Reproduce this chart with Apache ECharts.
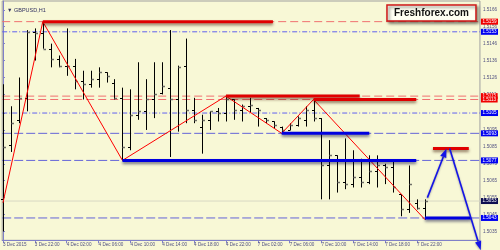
<!DOCTYPE html>
<html><head><meta charset="utf-8">
<script src="https://cdn.jsdelivr.net/npm/echarts@6/dist/echarts.min.js"></script>
<style>html,body{margin:0;padding:0;background:#F8F8D6}#c{width:500px;height:250px}</style>
</head><body><div id="c"></div>
<script>
// time axis labels (every 4 hourly bars)
const timeLabels = ["3 Dec 2015","3 Dec 22:00","4 Dec 02:00","4 Dec 06:00","4 Dec 10:00","4 Dec 14:00","4 Dec 18:00","4 Dec 22:00","7 Dec 02:00","7 Dec 06:00","7 Dec 10:00","7 Dec 14:00","7 Dec 18:00","7 Dec 22:00"];
const timeLabelIdx = [0,4,8,12,16,20,24,28,32,36,40,44,48,52];
const priceTicks = [1.5035,1.5045,1.5055,1.5065,1.5075,1.5085,1.5095,1.5105,1.5116,1.5126,1.5136,1.5146,1.5156,1.5166];

// OHLC hourly bars (3 Dec 18:00 .. 7 Dec 23:00)
const opens  = [1.5054,1.5086,1.5101,1.5114,1.5153,1.5152,1.5143,1.5137,1.5133,1.5133,1.5124,1.5122,1.5125,1.5129,1.5123,1.5114,1.5085,1.5104,1.5106,1.5113,1.5117,1.5120,1.5113,1.5133,1.5107,1.5097,1.5101,1.5106,1.5105,1.5113,1.5107,1.5109,1.5108,1.5102,1.5100,1.5097,1.5095,1.5098,1.5101,1.5107,1.5102,1.5074,1.5080,1.5064,1.5063,1.5067,1.5064,1.5071,1.5074,1.5073,1.5057,1.5048,1.5052,1.5049];
const highs  = [1.5122,1.5109,1.5126,1.5154,1.5155,1.5159,1.5146,1.5139,1.5155,1.5137,1.5130,1.5130,1.5132,1.5129,1.5125,1.5120,1.5119,1.5135,1.5125,1.5135,1.5135,1.5154,1.5133,1.5149,1.5114,1.5104,1.5106,1.5108,1.5115,1.5113,1.5110,1.5114,1.5108,1.5102,1.5100,1.5097,1.5099,1.5103,1.5109,1.5113,1.5102,1.5089,1.5080,1.5090,1.5083,1.5078,1.5080,1.5080,1.5075,1.5077,1.5057,1.5074,1.5054,1.5054];
const lows   = [1.5035,1.5082,1.5099,1.5106,1.5136,1.5143,1.5132,1.5132,1.5127,1.5119,1.5113,1.5120,1.5120,1.5123,1.5113,1.5077,1.5083,1.5101,1.5095,1.5102,1.5116,1.5079,1.5094,1.5099,1.5099,1.5081,1.5095,1.5100,1.5100,1.5101,1.5100,1.5105,1.5097,1.5099,1.5096,1.5093,1.5095,1.5097,1.5097,1.5100,1.5054,1.5054,1.5058,1.5060,1.5061,1.5061,1.5063,1.5061,1.5063,1.5058,1.5044,1.5046,1.5048,1.5042];
const closes = [1.5085,1.5099,1.5114,1.5153,1.5152,1.5143,1.5137,1.5133,1.5133,1.5124,1.5122,1.5125,1.5129,1.5127,1.5114,1.5085,1.5104,1.5106,1.5113,1.5116,1.5121,1.5113,1.5132,1.5107,1.5101,1.5101,1.5106,1.5105,1.5113,1.5107,1.5109,1.5110,1.5107,1.5101,1.5098,1.5095,1.5098,1.5102,1.5107,1.5102,1.5074,1.5080,1.5064,1.5063,1.5067,1.5064,1.5071,1.5074,1.5073,1.5061,1.5048,1.5063,1.5049,1.5053];

// horizontal price levels
const redDashLevels = [1.5159,1.5115,1.5113];
const blueDashDotLevels = [1.5153,1.5105];
const blueDashLevels = [1.5093,1.5077,1.5043];
const currentPrice = 1.5053;

// zigzag pivots (bar index, price)
const zigzagIdx = [0,5,15,28,35,39,53];
const zigzagPrice = [1.5052,1.5159,1.5077,1.5115,1.5093,1.5113,1.5042];

// thick segments: [startIdx, endIdx, price]
const redSegments = [[5,33.9,1.5159],[28,44.8,1.5115],[39,51.9,1.5113],[54,58.5,1.5084]];
const blueSegments = [[15,51.9,1.5077],[35,46,1.5093],[53,58.75,1.5043]];

// forecast arrows: [x1,p1,x2,p2]
const arrows = [[53.3,1.5055,55.7,1.5084],[56.1,1.5084,60,1.5024]];

const X_MIN = -0.1, X_MAX = 59.9;
const chart = echarts.init(document.getElementById('c'), null, {renderer:'canvas'});
const FONT = 'Liberation Sans';
const ohlcData = opens.map((o,i)=>[i,o,highs[i],lows[i],closes[i]]);

function renderOHLC(params, api){
  const i = api.value(0);
  const o = api.coord([i, api.value(1)]);
  const h = api.coord([i, api.value(2)]);
  const l = api.coord([i, api.value(3)]);
  const c = api.coord([i, api.value(4)]);
  const x = Math.round(o[0]) + 0.5;
  const tw = 2.5;
  return {type:'group', children:[
    {type:'line', shape:{x1:x,y1:h[1],x2:x,y2:l[1]}, style:{stroke:'#000',lineWidth:1}},
    {type:'line', shape:{x1:x-tw,y1:Math.round(o[1])+0.5,x2:x,y2:Math.round(o[1])+0.5}, style:{stroke:'#000',lineWidth:1}},
    {type:'line', shape:{x1:x,y1:Math.round(c[1])+0.5,x2:x+tw,y2:Math.round(c[1])+0.5}, style:{stroke:'#707068',lineWidth:1.5}}
  ]};
}

function renderArrow(params, api){
  const a = api.coord([api.value(0), api.value(1)]);
  const b = api.coord([api.value(2), api.value(3)]);
  const dx = b[0]-a[0], dy = b[1]-a[1], len = Math.hypot(dx,dy);
  const ux = dx/len, uy = dy/len, nx = -uy, ny = ux;
  const L = 9, W = 3.2;
  const bx = b[0]-ux*L, by = b[1]-uy*L;
  const st = {shadowColor:'rgba(0,0,60,0.35)', shadowBlur:2, shadowOffsetY:1};
  return {type:'group', children:[
    {type:'line', shape:{x1:a[0],y1:a[1],x2:bx,y2:by}, style:Object.assign({stroke:'#1414E6',lineWidth:1.6},st)},
    {type:'polygon', shape:{points:[[b[0],b[1]],[bx+nx*W,by+ny*W],[bx-nx*W,by-ny*W]]}, style:Object.assign({fill:'#1414E6'},st)}
  ]};
}

function levelSeries(p, color, type, labelBg){
  return {type:'line', data:[[X_MIN,p],[X_MAX,p]], symbol:'none', z:1, silent:true,
    lineStyle:{color:color, type:type, width:1},
    endLabel:{show:true, distance:1, formatter:p.toFixed(4), color:'#fff', fontSize:4.6, fontFamily:FONT,
      backgroundColor:labelBg, padding:[0.6,1.5,0.4,1.5]}};
}
const levels = [];
levels.push(levelSeries(currentPrice,'#D8D8C4','solid','#0E0E50'));
redDashLevels.forEach(p=>levels.push(levelSeries(p,'#F07070',[8,4],'#F00000')));
blueDashDotLevels.forEach(p=>levels.push(levelSeries(p,'#6060F0',[5,2,1,2],'#0000F0')));
blueDashLevels.forEach(p=>levels.push(levelSeries(p,'#6464D8',[9,3],'#0000F0')));

const segSeries = [];
redSegments.forEach(s=>segSeries.push({type:'line', data:[[s[0],s[2]],[s[1],s[2]]], symbol:'none', z:4, silent:true,
  lineStyle:{color:'#E00000', width:3, shadowColor:'rgba(60,20,0,0.55)', shadowBlur:3, shadowOffsetY:2}}));
blueSegments.forEach(s=>segSeries.push({type:'line', data:[[s[0],s[2]],[s[1],s[2]]], symbol:'none', z:4, silent:true,
  lineStyle:{color:'#0000E0', width:3, shadowColor:'rgba(0,0,60,0.55)', shadowBlur:3, shadowOffsetY:2}}));

chart.setOption({
  animation:false,
  backgroundColor:'#F8F8D6',
  title:[
    {text:'▼ GBPUSD,H1', left:2, top:2, textStyle:{fontSize:5.5, fontFamily:FONT, color:'#303060', fontWeight:'normal'}},
    {text:'Freshforex.com', right:24, top:5, padding:[3,7,3,7], backgroundColor:'#FFFFF2', borderColor:'#D01818', borderWidth:1.5,
      shadowColor:'rgba(0,0,0,0.45)', shadowBlur:3, shadowOffsetX:2, shadowOffsetY:2,
      textStyle:{fontSize:10, fontFamily:FONT, fontWeight:'bold', color:'#111'}}
  ],
  grid:{left:0.9, right:19.1, top:1, bottom:9.7, show:true, borderColor:'#A0A0A0', borderWidth:1, backgroundColor:'transparent'},
  xAxis:{type:'value', min:X_MIN, max:X_MAX,
    axisLine:{show:true, lineStyle:{color:'#8080C8'}},
    axisTick:{show:true, customValues:timeLabelIdx, length:3, lineStyle:{color:'#8080C8'}},
    axisLabel:{customValues:timeLabelIdx, formatter:v=>timeLabels[timeLabelIdx.indexOf(Math.round(v))]||'', align:'left', margin:2,
      fontSize:4.6, fontFamily:FONT, color:'#505080'},
    splitLine:{show:false}},
  yAxis:{type:'value', position:'right', min:1.50298, max:1.51712,
    axisLine:{show:true, lineStyle:{color:'#8080C8'}},
    axisTick:{show:true, customValues:priceTicks, length:2, lineStyle:{color:'#8080C8'}},
    axisLabel:{customValues:priceTicks, formatter:v=>v.toFixed(4), margin:3, fontSize:4.6, fontFamily:FONT, color:'#505080'},
    splitLine:{show:false}},
  series:[
    ...levels,
    {type:'line', data:zigzagIdx.map((x,i)=>[x,zigzagPrice[i]]), symbol:'none', z:3, silent:true,
      lineStyle:{color:'#FF0000', width:1}},
    {type:'custom', renderItem:renderOHLC, data:ohlcData, encode:{x:0,y:[1,2,3,4]}, z:2},
    ...segSeries,
    {type:'custom', renderItem:renderArrow, data:arrows, encode:{x:[0,2],y:[1,3]}, clip:false, z:6}
  ]
});
</script></body></html>
